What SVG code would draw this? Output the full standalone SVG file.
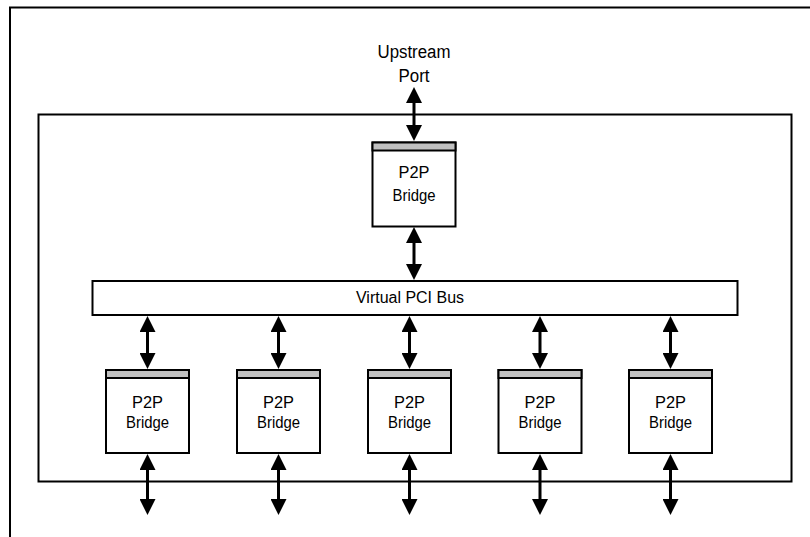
<svg xmlns="http://www.w3.org/2000/svg" width="810" height="537" viewBox="0 0 810 537">
<style>
.box{fill:#fff;stroke:#000;stroke-width:2}
.bar{fill:#c0c0c0;stroke:#000;stroke-width:2}
.frame{fill:none;stroke:#000;stroke-width:2}
.lbl{font-family:"Liberation Sans",Arial,sans-serif;font-size:18px;fill:#000;text-anchor:middle}
.bl{font-family:"Liberation Sans",Arial,sans-serif;font-size:17px;fill:#000;text-anchor:middle}
.bs{font-family:"Liberation Sans",Arial,sans-serif;font-size:16px;fill:#000;text-anchor:middle}
.conn{stroke:#000;stroke-width:3;fill:none;marker-start:url(#ah);marker-end:url(#ah)}
</style>
<defs>
<marker id="ah" markerUnits="userSpaceOnUse" markerWidth="16" markerHeight="16" viewBox="0 0 16 16" refX="6" refY="8" orient="auto-start-reverse">
<path d="M0,0 L16,8 L0,16 z" fill="#000"/>
</marker>
</defs>
<rect width="810" height="537" fill="#fff"/>
<g id="page-frame">
<path class="frame" d="M810,7.5 H10 V537"/>
</g>
<g id="switch">
<rect class="frame" x="38.5" y="114.5" width="753" height="367"/>
</g>
<g id="upstream-port">
<text class="lbl" x="414" y="58" textLength="73" lengthAdjust="spacingAndGlyphs">Upstream</text>
<text class="lbl" x="414" y="82" textLength="31" lengthAdjust="spacingAndGlyphs">Port</text>
</g>
<g id="bridge-up">
<rect class="box" x="372.5" y="142.5" width="83" height="84"/>
<rect class="bar" x="372.5" y="142.5" width="83" height="8"/>
<text class="bl" x="414" y="178" textLength="31" lengthAdjust="spacingAndGlyphs">P2P</text>
<text class="bl" x="414" y="201" textLength="43" lengthAdjust="spacingAndGlyphs">Bridge</text>
</g>
<g id="bus">
<rect class="box" x="92.5" y="281" width="645" height="34"/>
<text class="bs" x="410" y="303" textLength="108" lengthAdjust="spacingAndGlyphs">Virtual PCI Bus</text>
</g>
<g id="bridge-1">
<rect class="box" x="106" y="370" width="83" height="83"/>
<rect class="bar" x="106" y="370" width="83" height="8"/>
<text class="bl" x="147.5" y="408" textLength="31" lengthAdjust="spacingAndGlyphs">P2P</text>
<text class="bl" x="147.5" y="428" textLength="43" lengthAdjust="spacingAndGlyphs">Bridge</text>
</g>
<g id="bridge-2">
<rect class="box" x="237" y="370" width="83" height="83"/>
<rect class="bar" x="237" y="370" width="83" height="8"/>
<text class="bl" x="278.5" y="408" textLength="31" lengthAdjust="spacingAndGlyphs">P2P</text>
<text class="bl" x="278.5" y="428" textLength="43" lengthAdjust="spacingAndGlyphs">Bridge</text>
</g>
<g id="bridge-3">
<rect class="box" x="368" y="370" width="83" height="83"/>
<rect class="bar" x="368" y="370" width="83" height="8"/>
<text class="bl" x="409.5" y="408" textLength="31" lengthAdjust="spacingAndGlyphs">P2P</text>
<text class="bl" x="409.5" y="428" textLength="43" lengthAdjust="spacingAndGlyphs">Bridge</text>
</g>
<g id="bridge-4">
<rect class="box" x="498.5" y="370" width="83" height="83"/>
<rect class="bar" x="498.5" y="370" width="83" height="8"/>
<text class="bl" x="540" y="408" textLength="31" lengthAdjust="spacingAndGlyphs">P2P</text>
<text class="bl" x="540" y="428" textLength="43" lengthAdjust="spacingAndGlyphs">Bridge</text>
</g>
<g id="bridge-5">
<rect class="box" x="629" y="370" width="83" height="83"/>
<rect class="bar" x="629" y="370" width="83" height="8"/>
<text class="bl" x="670.5" y="408" textLength="31" lengthAdjust="spacingAndGlyphs">P2P</text>
<text class="bl" x="670.5" y="428" textLength="43" lengthAdjust="spacingAndGlyphs">Bridge</text>
</g>
<g id="connectors">
<line class="conn" x1="414" y1="97" x2="414" y2="131"/>
<line class="conn" x1="414" y1="237" x2="414" y2="270"/>
<line class="conn" x1="147.5" y1="326" x2="147.5" y2="359"/>
<line class="conn" x1="278.5" y1="326" x2="278.5" y2="359"/>
<line class="conn" x1="409.5" y1="326" x2="409.5" y2="359"/>
<line class="conn" x1="540" y1="326" x2="540" y2="359"/>
<line class="conn" x1="670.5" y1="326" x2="670.5" y2="359"/>
<line class="conn" x1="147.5" y1="464" x2="147.5" y2="505"/>
<line class="conn" x1="278.5" y1="464" x2="278.5" y2="505"/>
<line class="conn" x1="409.5" y1="464" x2="409.5" y2="505"/>
<line class="conn" x1="540" y1="464" x2="540" y2="505"/>
<line class="conn" x1="670.5" y1="464" x2="670.5" y2="505"/>
</g>
</svg>
